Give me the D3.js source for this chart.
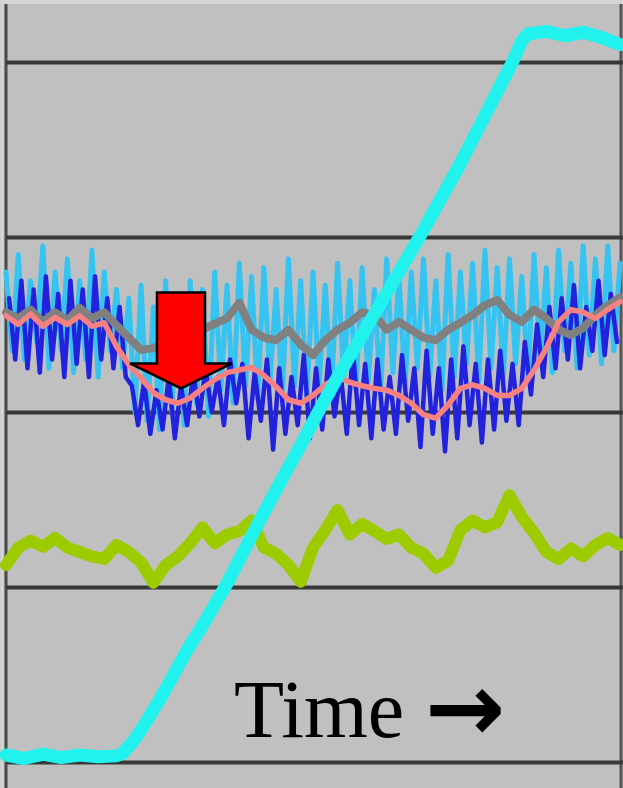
<!DOCTYPE html>
<html>
<head>
<meta charset="utf-8">
<script src="https://cdn.jsdelivr.net/npm/d3@7"></script>
<style>
  html, body { margin: 0; padding: 0; background: #c0c0c0; }
  svg { display: block; }
</style>
</head>
<body>
<div id="chart"></div>
<script>
// gridline levels (value units)
var gridValues = [0, 20, 40, 60, 80];

// cyan sigmoid: own time points
var cyanTime = [0, 3, 6, 9, 12, 15, 18, 19, 21, 23, 25, 27, 29.5, 32, 34, 36, 39, 42, 45, 48, 51, 54, 57, 60, 63, 66, 68, 71, 74, 77, 80, 82.5, 84, 85, 88, 91, 94, 97, 100];
var cyanValues = [0.8, 0.4, 0.9, 0.5, 0.8, 0.6, 0.7, 1.0, 2.6, 4.8, 7.1, 9.6, 12.8, 15.6, 18.0, 20.4, 24.5, 28.5, 32.4, 36.2, 40.2, 44.0, 47.6, 51.2, 54.8, 58.4, 60.8, 64.6, 68.4, 72.5, 76.6, 80.0, 82.4, 83.2, 83.5, 83.0, 83.4, 82.8, 82.0];

// smoother series sampled every 2 time units (0..100)
var greenValues = [22.5, 24.5, 25.3, 24.6, 25.6, 24.5, 24.0, 23.5, 23.2, 24.8, 24.0, 22.8, 20.5, 22.5, 23.5, 25.0, 26.8, 25.0, 26.0, 26.4, 27.6, 24.5, 23.8, 22.5, 20.6, 24.5, 26.5, 28.8, 26.0, 27.2, 26.4, 25.5, 26.0, 24.5, 23.8, 22.2, 23.0, 26.5, 27.6, 26.8, 27.4, 30.5, 28.0, 26.2, 24.0, 23.2, 24.4, 23.5, 24.8, 25.6, 24.8];
var grayValues = [51.4, 50.7, 51.7, 50.3, 51.4, 50.5, 51.9, 50.7, 51.4, 49.9, 48.5, 47.1, 47.3, 48.0, 48.5, 49.0, 49.4, 50.1, 50.7, 52.5, 49.4, 48.5, 48.2, 49.4, 47.7, 46.5, 48.2, 49.4, 50.2, 51.4, 51.1, 49.4, 50.3, 49.4, 48.5, 48.2, 49.4, 50.2, 51.1, 52.2, 52.8, 51.1, 50.3, 51.7, 50.7, 49.4, 48.8, 49.6, 51.1, 52.2, 53.1];
var salmonValues = [51.0, 50.0, 51.2, 49.8, 50.8, 50.0, 51.0, 49.8, 50.2, 47.5, 45.4, 43.9, 42.2, 41.4, 41.0, 41.6, 42.7, 43.7, 44.5, 44.8, 45.1, 44.2, 42.9, 41.4, 41.0, 41.9, 43.1, 44.0, 43.4, 43.0, 42.7, 42.5, 41.9, 41.0, 39.7, 39.3, 40.8, 42.7, 43.1, 42.7, 41.9, 41.9, 42.7, 44.8, 47.3, 50.3, 51.7, 51.4, 50.7, 51.7, 52.6];

// noisy series, every time unit (0..100)
var lightBlueValues = [56, 47, 58, 46, 55, 48, 59, 45, 56, 47, 57.5, 44.5, 55, 46, 58.5, 44, 56, 47, 54, 45,
  53, 40, 54.5, 39, 52, 38, 55, 40, 53.5, 38.5, 55, 41, 54, 39.5, 56, 42.5, 54.5, 41, 57, 43,
  55.5, 41.5, 56.5, 43.5, 54, 42, 57.5, 43, 55, 41.5, 56, 43, 54.5, 42, 57, 44, 55, 42.5, 56.5, 43.5,
  54, 42, 57.5, 44.5, 55.5, 43, 56, 45, 57.5, 44, 55, 42.5, 58, 44, 56, 45.5, 57, 43.5, 58.5, 45,
  56.5, 44, 57.5, 45.5, 55.5, 44, 58, 46, 56.5, 44.5, 58.5, 47, 57, 45, 59, 46.5, 57.5, 45.5, 59, 47, 57];
// offset by half a unit (0.5..99.5)
var darkBlueValues = [53, 46, 55, 45, 54, 44.5, 55.5, 46, 53.5, 44, 55, 45.5, 54, 44, 55.5, 46, 53, 45, 52, 44,
  43, 38.5, 43.5, 37.5, 42.5, 38, 44, 37, 43, 38.5, 44.5, 39.5, 45, 40, 44, 38.5, 46, 41, 45.5, 37,
  44.5, 39, 46, 35.7, 45, 37.5, 44, 38.5, 46.5, 37, 45, 38, 46, 39.5, 44.5, 37.5, 47, 38.5, 45.5, 37,
  46, 38, 44, 37.5, 46.5, 39, 45, 36, 47, 37.5, 45, 35.5, 46, 37, 47.5, 38.5, 45.5, 36.5, 46, 38,
  47, 39, 45.5, 38.5, 48, 42, 50, 44, 52, 45, 53, 46, 54.5, 45, 52, 47, 55, 46.5, 53.5, 48];

var arrowTip = { t: 28.5, v: 42.7 };
var label = "Time ";
var labelArrow = "\u2192";

var w = 623, h = 788;
var x = d3.scaleLinear().domain([0, 100]).range([6, 620]);
var y = d3.scaleLinear().domain([0, 80]).range([762, 62]);

var evenTime = d3.range(0, 101, 2);
var stepTime = d3.range(0, 101);
var halfTime = d3.range(0.5, 100, 1);

function pairs(ts, vs) {
  return ts.map(function(t, i) { return [t, vs[i]]; });
}

var line = d3.line()
  .x(function(d) { return x(d[0]); })
  .y(function(d) { return y(d[1]); });

var svg = d3.select("#chart").append("svg")
  .attr("width", w).attr("height", h);

var defs = svg.append("defs");
defs.append("filter").attr("id", "soft")
  .attr("filterUnits", "userSpaceOnUse")
  .attr("x", 0).attr("y", 0).attr("width", w).attr("height", h)
  .append("feGaussianBlur").attr("stdDeviation", 0.7);

svg.append("rect").attr("width", w).attr("height", h).attr("fill", "#c0c0c0");

// frame edges
svg.append("rect").attr("x", 0).attr("y", 0).attr("width", w).attr("height", 4).attr("fill", "#d4d4d4");
svg.append("line").attr("x1", 6).attr("x2", 6).attr("y1", 4).attr("y2", h)
  .attr("stroke", "#4a4a4a").attr("stroke-width", 3);
svg.append("line").attr("x1", 2).attr("x2", 2).attr("y1", 4).attr("y2", h)
  .attr("stroke", "#d6d6d6").attr("stroke-width", 3);
svg.append("line").attr("x1", 621).attr("x2", 621).attr("y1", 4).attr("y2", h)
  .attr("stroke", "#555").attr("stroke-width", 3);

// gridlines from the y axis
var grid = svg.append("g")
  .attr("transform", "translate(6,0)")
  .attr("filter", "url(#soft)")
  .call(d3.axisLeft(y).tickValues(gridValues).tickSize(-(w - 6)).tickFormat(""));
grid.select(".domain").remove();
grid.selectAll(".tick line").attr("stroke", "#383838").attr("stroke-width", 4);

var plot = svg.append("g").attr("filter", "url(#soft)");

function drawSeries(data, color, width) {
  plot.append("path")
    .datum(data)
    .attr("d", line)
    .attr("fill", "none")
    .attr("stroke", color)
    .attr("stroke-width", width)
    .attr("stroke-linejoin", "round")
    .attr("stroke-linecap", "round");
}

drawSeries(pairs(stepTime, lightBlueValues), "#36c4f2", 5);
drawSeries(pairs(halfTime, darkBlueValues), "#2424dc", 4.5);
drawSeries(pairs(evenTime, grayValues), "#808080", 8);
drawSeries(pairs(evenTime, salmonValues), "#f78080", 5.5);
drawSeries(pairs(evenTime, greenValues), "#9ccc00", 12);
drawSeries(pairs(cyanTime, cyanValues), "#22f2ee", 13);

// red arrow pointing at the dip
var tx = x(arrowTip.t), ty = y(arrowTip.v);
var arrowShape = [[-24, -96], [24, -96], [24, -25], [51, -25], [0, 0], [-51, -25], [-24, -25]];
svg.append("polygon")
  .attr("points", arrowShape.map(function(p) { return (tx + p[0]) + "," + (ty + p[1]); }).join(" "))
  .attr("fill", "#ff0000")
  .attr("stroke", "#000")
  .attr("stroke-width", 2.5)
  .attr("stroke-linejoin", "miter");

var txt = svg.append("text")
  .attr("x", 234).attr("y", 737)
  .attr("font-family", "'Liberation Serif', 'Times New Roman', serif")
  .attr("font-size", 82)
  .attr("fill", "#000");
txt.append("tspan").text(label);
txt.append("tspan")
  .attr("font-family", "'DejaVu Sans', sans-serif")
  .attr("font-weight", "bold")
  .attr("font-size", 96)
  .attr("dy", 4)
  .text(labelArrow);
</script>
</body>
</html>
